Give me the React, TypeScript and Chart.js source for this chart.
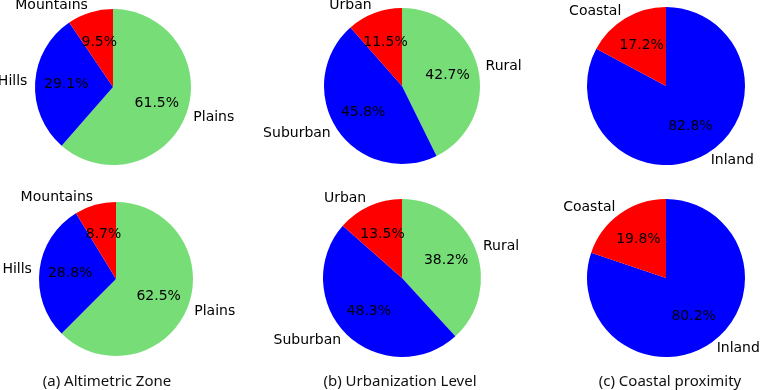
import React, { useEffect, useRef } from "react";
import { Chart, registerables } from "chart.js";
Chart.register(...registerables);

// ---- data ----
const altLabels = ["Plains", "Hills", "Mountains"];
const altTop = [61.5, 29.1, 9.5];
const altBottom = [62.5, 28.8, 8.7];
const urbLabels = ["Rural", "Suburban", "Urban"];
const urbTop = [42.7, 45.8, 11.5];
const urbBottom = [38.2, 48.3, 13.5];
const coastLabels = ["Inland", "Coastal"];
const coastTop = [82.8, 17.2];
const coastBottom = [80.2, 19.8];
const captions = ["(a) Altimetric Zone", "(b) Urbanization Level", "(c) Coastal proximity"];

// ---- style ----
const GREEN = "#77dd77";
const BLUE = "#0000ff";
const RED = "#ff0000";
const altColors = [GREEN, BLUE, RED];
const urbColors = [GREEN, BLUE, RED];
const coastColors = [BLUE, RED];

const W = 300;
const H = 200;

const pies = [
  { labels: altLabels, values: altTop, colors: altColors, cx: 113, cy: 87, r: 78 },
  { labels: urbLabels, values: urbTop, colors: urbColors, cx: 402, cy: 86, r: 78 },
  { labels: coastLabels, values: coastTop, colors: coastColors, cx: 666, cy: 86, r: 79 },
  { labels: altLabels, values: altBottom, colors: altColors, cx: 116, cy: 279, r: 77 },
  { labels: urbLabels, values: urbBottom, colors: urbColors, cx: 402, cy: 278, r: 79 },
  { labels: coastLabels, values: coastBottom, colors: coastColors, cx: 666, cy: 278, r: 79 },
];
const captionX = [107, 400, 670];
const captionY = 380;

const labelPlugin = {
  id: "pieLabels",
  afterDatasetsDraw(chart: any) {
    const ctx = chart.ctx;
    const meta = chart.getDatasetMeta(0);
    const ds = chart.data.datasets[0];
    ctx.save();
    ctx.font = '14px "DejaVu Sans"';
    ctx.fillStyle = "#000";
    ctx.textBaseline = "middle";
    meta.data.forEach((arc: any, i: number) => {
      const { x, y, startAngle, endAngle, outerRadius } = arc.getProps(
        ["x", "y", "startAngle", "endAngle", "outerRadius"],
        true
      );
      const mid = (startAngle + endAngle) / 2;
      const c = Math.cos(mid);
      const s = Math.sin(mid);
      ctx.textAlign = c > 0 ? "left" : "right";
      ctx.fillText(String(chart.data.labels[i]), x + c * 1.1 * outerRadius, y + s * 1.1 * outerRadius);
      ctx.textAlign = "center";
      ctx.fillText(Number(ds.data[i]).toFixed(1) + "%", x + c * 0.6 * outerRadius, y + s * 0.6 * outerRadius);
    });
    ctx.restore();
  },
};

function Pie({ labels, values, colors, cx, cy, r }: any) {
  const ref = useRef<HTMLCanvasElement>(null);
  useEffect(() => {
    const padX = W / 2 - r;
    const padY = H / 2 - r;
    const chart = new Chart(ref.current as HTMLCanvasElement, {
      type: "pie",
      data: {
        labels,
        datasets: [{ data: values, backgroundColor: colors, borderWidth: 0 }],
      },
      options: {
        responsive: false,
        animation: false,
        events: [],
        layout: { padding: { left: padX, right: padX, top: padY, bottom: padY } },
        plugins: { legend: { display: false }, tooltip: { enabled: false } },
      },
      plugins: [labelPlugin],
    } as any);
    return () => chart.destroy();
  }, []);
  return (
    <canvas
      ref={ref}
      width={W}
      height={H}
      style={{ position: "absolute", left: cx - W / 2, top: cy - H / 2, width: W, height: H }}
    />
  );
}

export default function App() {
  return (
    <div
      style={{
        position: "fixed",
        left: 0,
        top: 0,
        width: 760,
        height: 390,
        background: "#fff",
        overflow: "hidden",
      }}
    >
      {pies.map((p, i) => (
        <Pie key={i} {...p} />
      ))}
      {captions.map((t, i) => (
        <div
          key={t}
          style={{
            position: "absolute",
            left: captionX[i] - 150,
            width: 300,
            top: captionY - 10,
            height: 20,
            lineHeight: "20px",
            textAlign: "center",
            font: '15px "Noto Sans"',
            color: "#111",
            whiteSpace: "nowrap",
          }}
        >
          {t}
        </div>
      ))}
    </div>
  );
}
